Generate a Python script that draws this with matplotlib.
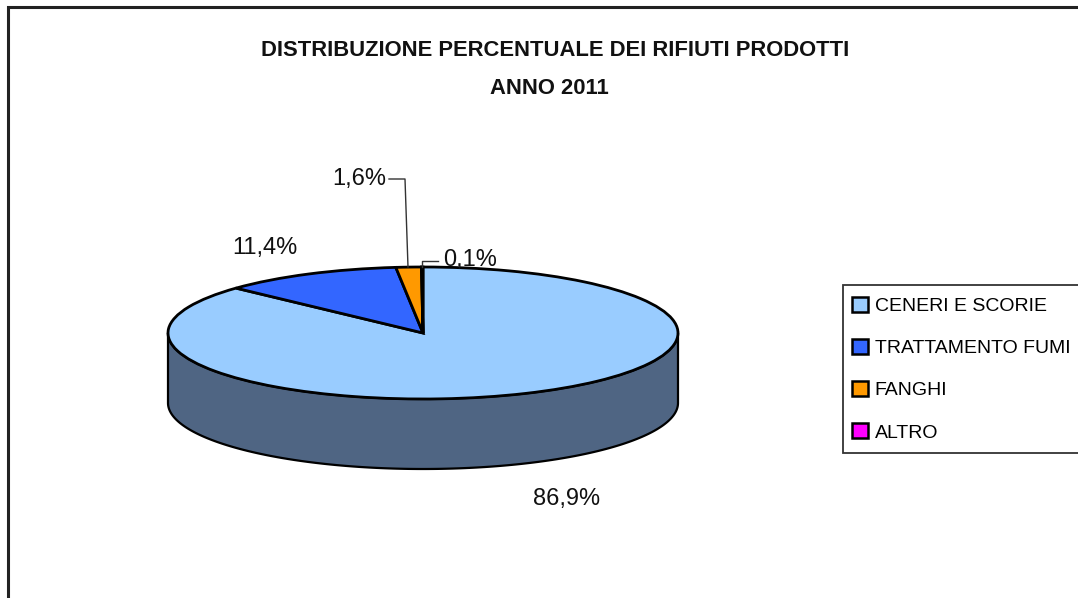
import matplotlib
matplotlib.use('Agg')
import matplotlib.pyplot as plt
import numpy as np
from matplotlib.patches import Patch, Rectangle

# dati
categorie = ['CENERI E SCORIE', 'TRATTAMENTO FUMI', 'FANGHI', 'ALTRO']
valori = [86.9, 11.4, 1.6, 0.1]
etichette = ['86,9%', '11,4%', '1,6%', '0,1%']
colori = ['#99ccff', '#3366ff', '#ff9900', '#ff00ff']
titolo = ['DISTRIBUZIONE PERCENTUALE DEI RIFIUTI PRODOTTI', 'ANNO 2011']

W, H = 1078, 598
CX, CY, RX, RY, DEPTH = 423, 333, 255, 66, 70
FONT = 'Liberation Sans'

fig = plt.figure(figsize=(W / 100, H / 100), dpi=100)

# torta schiacciata: raggio 1 = RX px in orizzontale, RY px in verticale
ax = fig.add_axes([0, 0, 1, 1])
ax.pie(valori, colors=colori, startangle=90, counterclock=False,
       wedgeprops={'edgecolor': 'black', 'linewidth': 2.0, 'zorder': 2})
ax.set_aspect('auto')
ax.set_xlim(-CX / RX, (W - CX) / RX)
ax.set_ylim((CY - H) / RY, CY / RY)

# fianco del cilindro
t = np.linspace(np.pi, 2 * np.pi, 200)
xs = np.cos(t)
ys = np.sin(t)
d = DEPTH / RY
ax.fill(np.r_[xs, xs[::-1]], np.r_[ys - d, ys[::-1]], facecolor='#4f6583',
        edgecolor='black', linewidth=1.6, zorder=1)

# strato in pixel per testi, cornice e linee guida
ov = fig.add_axes([0, 0, 1, 1], facecolor='none')
ov.set_xlim(0, W)
ov.set_ylim(H, 0)
ov.axis('off')

ov.plot([8, 8, W], [H, 7, 7], color='#222222', lw=2.2, solid_joinstyle='miter')

ov.text(555, 51, titolo[0], ha='center', va='center', fontsize=15.8,
        fontweight='bold', family=FONT, color='#111111')
ov.text(549, 89, titolo[1], ha='center', va='center', fontsize=15.8,
        fontweight='bold', family=FONT, color='#111111')

pos = [(567, 499), (265, 248), (359, 179), (470, 260)]
for (x, y), s in zip(pos, etichette):
    ov.text(x, y, s, ha='center', va='center', fontsize=17, family=FONT,
            color='#111111')

ov.plot([389, 405, 408], [179, 179, 267], color='#333333', lw=1.0)
ov.plot([438, 422, 422], [261, 261, 267], color='#333333', lw=1.0)

# legenda: cornice a parte, esce dal bordo destro
ov.add_patch(Rectangle((843, 285), W + 5 - 843, 168, facecolor='white',
                       edgecolor='#333333', linewidth=1.3, zorder=3))
handles = [Patch(facecolor=c, edgecolor='black', linewidth=1.8) for c in colori]
leg = ov.legend(handles, categorie, loc='upper left',
                bbox_to_anchor=(852 / W, 1 - 297 / H), borderaxespad=0,
                frameon=False, prop={'family': FONT, 'size': 14},
                labelspacing=1.23, handlelength=0.8, handleheight=0.8,
                handletextpad=0.36, borderpad=0)
leg.set_zorder(4)

fig.savefig('out.png', dpi=100)
